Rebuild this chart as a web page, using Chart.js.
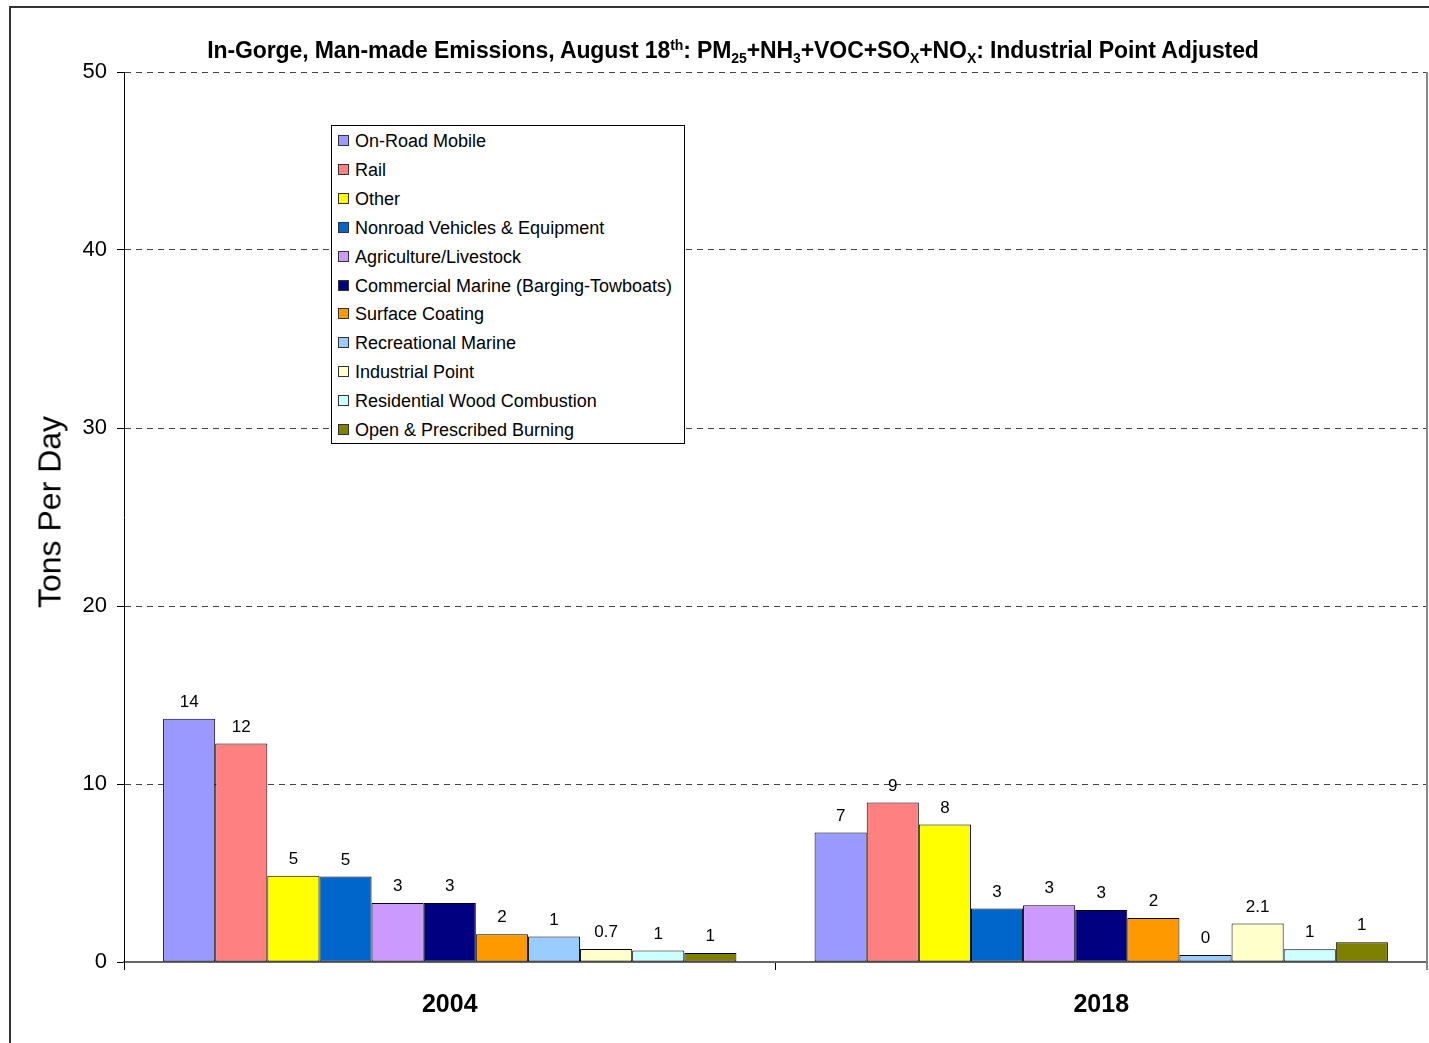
<!DOCTYPE html>
<html>
<head>
<meta charset="utf-8">
<script src="https://cdn.jsdelivr.net/npm/chart.js@4/dist/chart.umd.min.js"></script>
<style>
  html, body { margin: 0; padding: 0; background: #fff; overflow: hidden; }
  body { width: 1429px; height: 1043px; position: relative; font-family: "Liberation Sans", Arial, sans-serif; }
  #frame { position: absolute; left: 9px; top: 6px; width: 1500px; height: 1100px; border: 2px solid #333; }
  #chart { position: absolute; left: 0; top: 0; }
  #title { position: absolute; left: 0; width: 1466px; top: 37px; text-align: center; font-weight: bold; font-size: 23px; letter-spacing: -0.1px; color: #000; white-space: nowrap; }
  #title sup, #title sub { font-size: 14px; }
  #title sup { vertical-align: 8px; }
  #title sub { vertical-align: -5px; }
  #ytitle { position: absolute; left: 50px; top: 512px; transform: translate(-50%, -50%) rotate(-90deg); font-size: 32px; white-space: nowrap; color: #000; }
  #legend { position: absolute; left: 331px; top: 125px; width: 352px; height: 317px; background: #fff; border: 1px solid #000; }
  #legend .row { position: absolute; left: 6px; height: 20px; font-size: 18px; line-height: 20px; white-space: nowrap; color: #000; }
  #legend .sw { display: inline-block; width: 9px; height: 9px; border: 1px solid #333; margin-right: 6px; vertical-align: 1px; }
</style>
</head>
<body>
<div id="frame"></div>
<canvas id="chart" width="1429" height="1043"></canvas>
<div id="title">In-Gorge, Man-made Emissions, August 18<sup>th</sup>: PM<sub>25</sub>+NH<sub>3</sub>+VOC+SO<sub>X</sub>+NO<sub>X</sub>: Industrial Point Adjusted</div>
<div id="ytitle">Tons Per Day</div>
<div id="legend"></div>
<script>
// categories on the x axis
const years = ["2004", "2018"];

// emission sources (one bar per source in each year)
const sources = [
  "On-Road Mobile",
  "Rail",
  "Other",
  "Nonroad Vehicles & Equipment",
  "Agriculture/Livestock",
  "Commercial Marine (Barging-Towboats)",
  "Surface Coating",
  "Recreational Marine",
  "Industrial Point",
  "Residential Wood Combustion",
  "Open & Prescribed Burning"
];
const sourceColors = [
  "#9999FF", "#FF8080", "#FFFF00", "#0066CC", "#CC99FF", "#000080",
  "#FF9900", "#99CCFF", "#FFFFCC", "#CCFFFF", "#808000"
];

// tons per day
const values2004 = [13.67, 12.27, 4.85, 4.8, 3.31, 3.31, 1.56, 1.43, 0.73, 0.64, 0.51];
const values2018 = [7.27, 8.96, 7.72, 3.0, 3.19, 2.92, 2.47, 0.39, 2.16, 0.71, 1.11];

// printed labels above the bars (as shown in the original)
const labels2004 = ["14", "12", "5", "5", "3", "3", "2", "1", "0.7", "1", "1"];
const labels2018 = ["7", "9", "8", "3", "3", "3", "2", "0", "2.1", "1", "1"];

const yTicks = [0, 10, 20, 30, 40, 50];

const FONT = "'Liberation Sans', Arial, sans-serif";

const datasets = sources.map((name, i) => ({
  label: name,
  data: [values2004[i], values2018[i]],
  barLabels: [labels2004[i], labels2018[i]],
  backgroundColor: sourceColors[i],
  borderColor: "#000",
  borderWidth: 1,
  borderSkipped: false,
  categoryPercentage: 0.88,
  barPercentage: 1.0
}));

// legend box (html, drawn over the plot like the original)
const legendEl = document.getElementById("legend");
sources.forEach((name, i) => {
  const row = document.createElement("div");
  row.className = "row";
  row.style.top = (5 + i * 28.9) + "px";
  row.innerHTML = `<span class="sw" style="background:${sourceColors[i]}"></span>`;
  row.appendChild(document.createTextNode(name));
  legendEl.appendChild(row);
});

const barLabelPlugin = {
  id: "barLabels",
  afterDatasetsDraw(chart) {
    const ctx = chart.ctx;
    ctx.save();
    ctx.font = "17px " + FONT;
    ctx.fillStyle = "#000";
    ctx.textAlign = "center";
    ctx.textBaseline = "alphabetic";
    chart.data.datasets.forEach((ds, di) => {
      const meta = chart.getDatasetMeta(di);
      meta.data.forEach((bar, j) => {
        ctx.fillText(ds.barLabels[j], bar.x, bar.y - 12);
      });
    });
    ctx.restore();
  }
};

const plotEdgePlugin = {
  id: "plotEdge",
  afterDraw(chart) {
    const { ctx, chartArea } = chart;
    ctx.save();
    ctx.strokeStyle = "#888";
    ctx.lineWidth = 2;
    ctx.beginPath();
    ctx.moveTo(chartArea.right, chartArea.top);
    ctx.lineTo(chartArea.right, chartArea.bottom + 8);
    ctx.stroke();
    ctx.restore();
  }
};

new Chart(document.getElementById("chart"), {
  type: "bar",
  data: { labels: years, datasets },
  options: {
    responsive: false,
    animation: false,
    devicePixelRatio: 1,
    layout: { padding: { top: 72, right: 2, left: 0, bottom: 0 } },
    plugins: {
      legend: { display: false },
      title: { display: false },
      tooltip: { enabled: false }
    },
    scales: {
      x: {
        afterFit(scale) { scale.height = 81; },
        grid: {
          display: true,
          drawOnChartArea: false,
          drawTicks: true,
          tickLength: 8,
          color: "#000",
          offset: true
        },
        border: { display: true, color: "#666", width: 2 },
        ticks: {
          padding: 20,
          color: "#000",
          font: { family: FONT, size: 25, weight: "bold" }
        }
      },
      y: {
        min: 0,
        max: 50,
        afterFit(scale) { scale.width = 124; },
        afterBuildTicks(scale) { scale.ticks = yTicks.map(v => ({ value: v })); },
        grid: {
          color: (c) => (c.tick && c.tick.value === 0) ? "rgba(0,0,0,0)" : "#444",
          lineWidth: 1,
          borderDash: [6, 5],
          drawTicks: true,
          tickLength: 7,
          tickColor: "#000",
          tickBorderDash: []
        },
        border: { display: true, color: "#000", width: 1, dash: [6, 5] },
        ticks: {
          padding: 10,
          color: "#000",
          font: { family: FONT, size: 22 }
        }
      }
    }
  },
  plugins: [barLabelPlugin, plotEdgePlugin]
});
</script>
</body>
</html>
